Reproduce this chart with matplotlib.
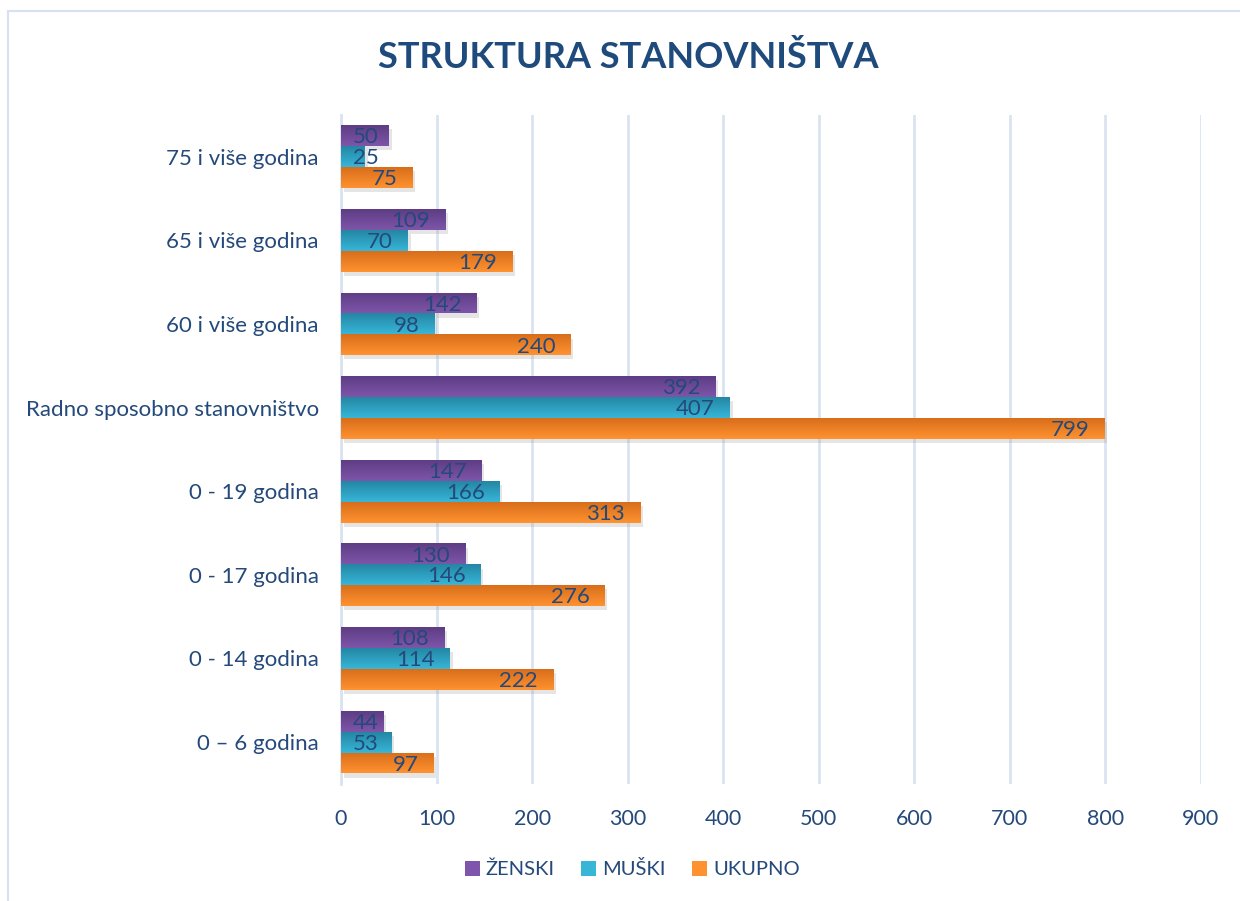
import numpy as np
import matplotlib.pyplot as plt
from matplotlib.patches import Rectangle, Patch
from matplotlib.colors import LinearSegmentedColormap
import matplotlib.patheffects as pe

plt.rcParams['font.family'] = ['Lato', 'DejaVu Sans']

categories = ['0 – 6 godina', '0 - 14 godina', '0 - 17 godina', '0 - 19 godina',
              'Radno sposobno stanovništvo', '60 i više godina', '65 i više godina',
              '75 i više godina']
zenski = [44, 108, 130, 147, 392, 142, 109, 50]
muski = [53, 114, 146, 166, 407, 98, 70, 25]
ukupno = [97, 222, 276, 313, 799, 240, 179, 75]
series_names = ['ŽENSKI', 'MUŠKI', 'UKUPNO']
xticks = [0, 100, 200, 300, 400, 500, 600, 700, 800, 900]

# top, bottom gradient colours
grads = [('#7E55AA', '#5E3D84'), ('#38B6D8', '#2486A4'), ('#FF9230', '#D86E1B')]
text_col = '#24497A'
grid_col = '#D9E4F1'

fig = plt.figure(figsize=(12.4, 9.01), dpi=100)
ax = fig.add_axes([0.275, 0.13, 0.6935, 0.7425])

h = 0.25
offsets = [h, 0, -h]
y = np.arange(len(categories))
px = 0.9556  # pixels per data unit

for vals, off, (c1, c2) in zip([zenski, muski, ukupno], offsets, grads):
    bars = ax.barh(y + off, vals, height=h, color=c1, zorder=3,
                   path_effects=[pe.SimplePatchShadow(offset=(2, -3), shadow_rgbFace='#999999', alpha=0.25),
                                 pe.Normal()])
    g = np.linspace(0, 1, 64).reshape(-1, 1)
    cmap = LinearSegmentedColormap.from_list('g', [c1, c2])
    for b, v in zip(bars, vals):
        y0 = b.get_y()
        im = ax.imshow(g, cmap=cmap, aspect='auto', zorder=4,
                       extent=[0, v, y0 + h, y0], origin='upper')
        im.set_clip_path(b)
        xr = max(v * px - 15, 38) / px
        ax.text(xr, y0 + h / 2 - 0.02, str(v), ha='right', va='center', fontsize=16,
                color=text_col, zorder=5)

ax.set_xlim(0, 900)
ax.set_ylim(-0.5, len(categories) - 0.5)
ax.set_xticks(xticks)
ax.set_yticks(y)
ax.set_yticklabels(categories, fontsize=16)
ax.tick_params(axis='both', length=0, labelcolor=text_col)
ax.tick_params(axis='x', labelsize=15.5, pad=18)
ax.tick_params(axis='y', pad=16)
ax.grid(axis='x', color=grid_col, linewidth=2, zorder=0)
ax.set_axisbelow(True)
for s in ['top', 'right', 'bottom']:
    ax.spines[s].set_visible(False)
ax.spines['left'].set_color(grid_col)
ax.spines['left'].set_linewidth(2)

fig.text(0.507, 0.936, 'STRUKTURA STANOVNIŠTVA', ha='center', va='center',
         fontsize=26, fontweight='bold', color='#1F4A7C')

handles = [Patch(facecolor=c[0], edgecolor='none') for c in grads]
fig.legend(handles, series_names, loc='center', bbox_to_anchor=(0.51, 0.035), ncol=3,
           frameon=False, fontsize=14.5, labelcolor=text_col, handlelength=0.75,
           handleheight=0.75, columnspacing=1.3, handletextpad=0.3)

fig.patches.append(Rectangle((8 / 1240, -0.1), 1.2, 1.1 - 11 / 901, transform=fig.transFigure,
                             fill=False, edgecolor='#D6E2F2', linewidth=1.5))

fig.savefig('out.png', dpi=100)
